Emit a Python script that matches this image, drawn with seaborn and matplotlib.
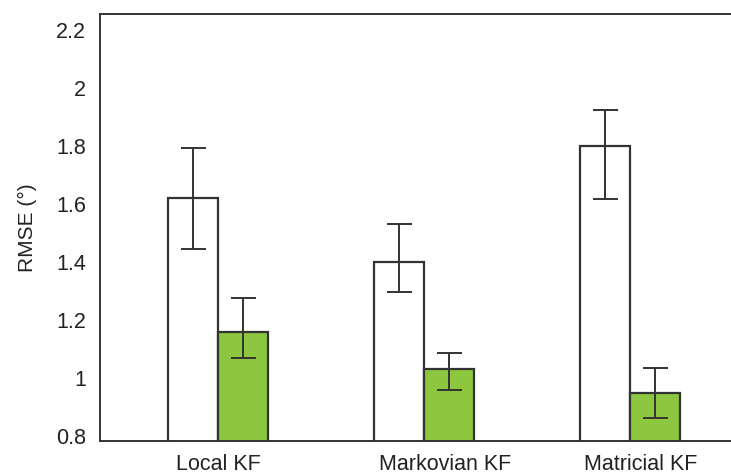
import matplotlib
matplotlib.use("Agg")
import matplotlib.pyplot as plt
import seaborn as sns
import pandas as pd
import numpy as np

# values
categories = ["Local KF", "Markovian KF", "Matricial KF"]
white_rmse = [1.62, 1.40, 1.80]
white_lo = [1.444, 1.295, 1.617]
white_hi = [1.792, 1.530, 1.924]
green_rmse = [1.16, 1.03, 0.95]
green_lo = [1.070, 0.959, 0.861]
green_hi = [1.277, 1.087, 1.035]
yticks = [0.8, 1.0, 1.2, 1.4, 1.6, 1.8, 2.0, 2.2]
ytick_labels = ["0.8", "1", "1.2", "1.4", "1.6", "1.8", "2", "2.2"]

df = pd.DataFrame({
    "method": ["white"] * 3 + ["green"] * 3,
    "filter": categories * 2,
    "rmse": white_rmse + green_rmse,
    "lo": white_lo + green_lo,
    "hi": white_hi + green_hi,
})

sns.set_style("white")
plt.rcParams["font.family"] = ["Liberation Sans", "DejaVu Sans"]
dark = "#333333"

fig = plt.figure(figsize=(7.31, 4.76), dpi=100)
ax = fig.add_axes([0.1368, 0.0735, 0.8632, 0.8971])

sns.barplot(data=df, x="filter", y="rmse", hue="method", order=categories,
            hue_order=["white", "green"],
            palette={"white": "white", "green": "#8DC63F"}, saturation=1,
            edgecolor=dark, linewidth=1.6, width=0.486,
            errorbar=None, legend=False, ax=ax)

# error bars centred on each bar
for patch, (_, row) in zip(ax.patches, df.iterrows()):
    xc = patch.get_x() + patch.get_width() / 2
    yerr = [[row["rmse"] - row["lo"]], [row["hi"] - row["rmse"]]]
    ax.errorbar(xc, row["rmse"], yerr=yerr, fmt="none",
                ecolor=dark, elinewidth=1.4, capsize=9, capthick=1.4)

ax.set_ylim(0.783, 2.255)
ax.set_xlim(-0.573, 2.49)
ax.set_yticks(yticks)
ax.set_yticklabels(ytick_labels, fontsize=15.5, color="#222222")
ax.set_xticks([0, 1.1, 2.05])
ax.set_xticklabels(categories, fontsize=15.5, color="#222222")
ax.tick_params(axis="both", length=0)
ax.tick_params(axis="y", pad=10)
ax.tick_params(axis="x", pad=9)
ax.set_xlabel("")
ax.set_ylabel("RMSE (°)", fontsize=15, color="#222222", labelpad=14)

for side in ["left", "top", "bottom"]:
    ax.spines[side].set_color(dark)
    ax.spines[side].set_linewidth(1.4)
ax.spines["right"].set_visible(False)

fig.savefig("out.png", dpi=100)
plt.close(fig)
